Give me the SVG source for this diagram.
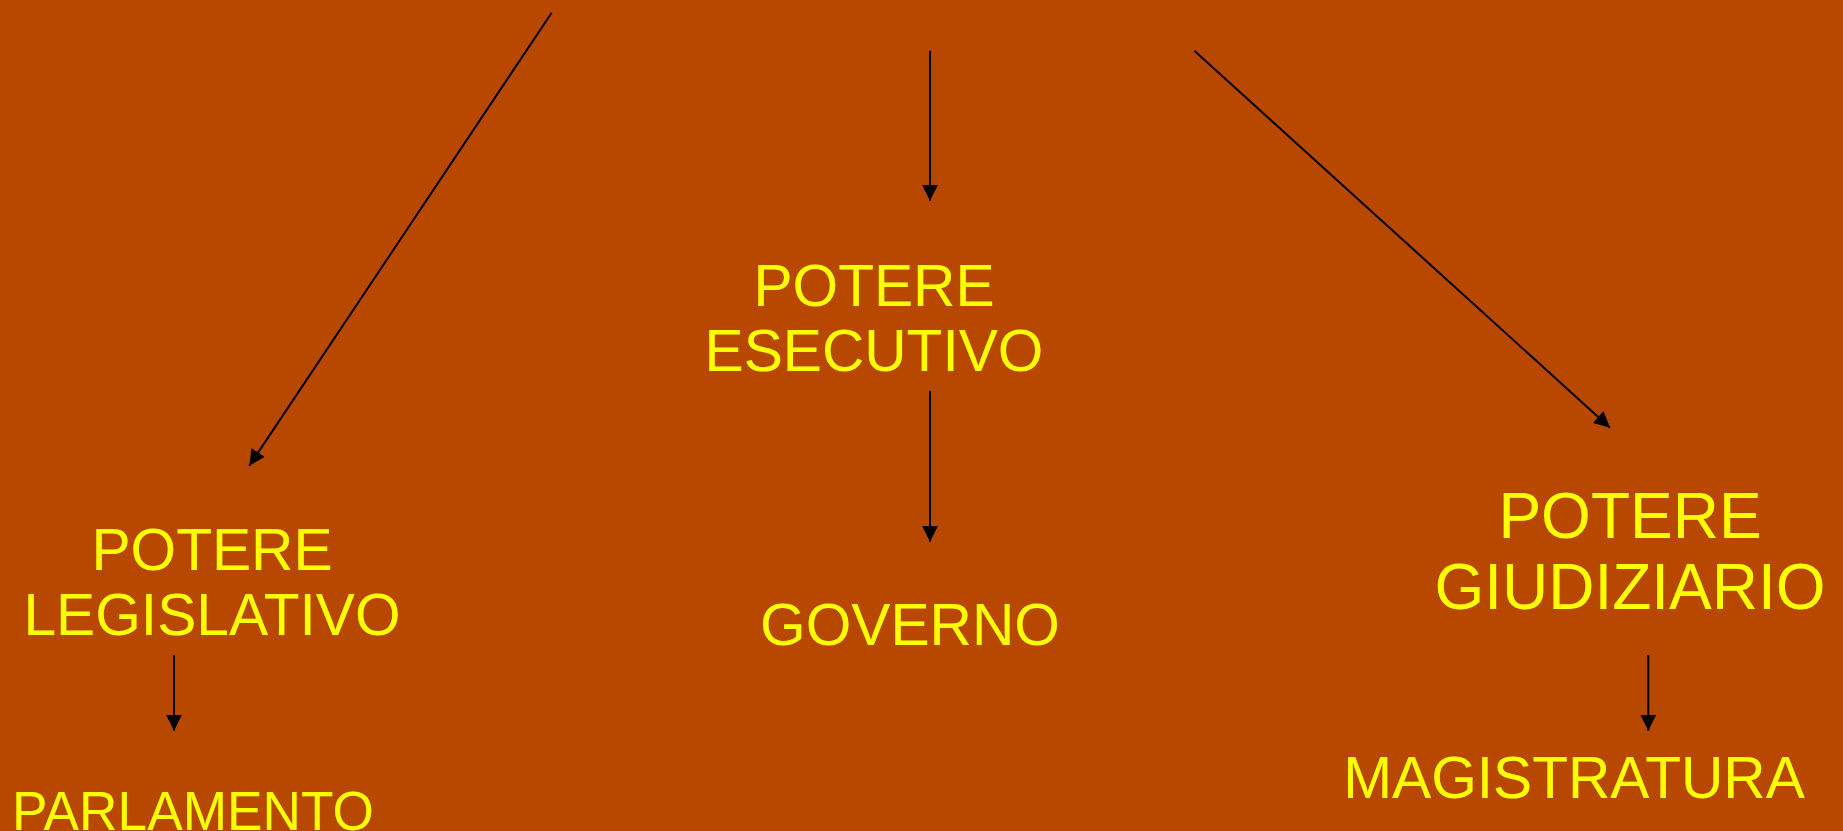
<svg xmlns="http://www.w3.org/2000/svg" width="1843" height="831" viewBox="0 0 1843 831">
<style>
.t{font-family:"Liberation Sans",Arial,sans-serif;fill:#FFFF00;font-size:58.67px;text-anchor:middle}
.big{font-size:64px}
.c{stroke:#000;stroke-width:2;fill:none;marker-end:url(#ah)}
</style>
<defs>
<marker id="ah" markerUnits="userSpaceOnUse" markerWidth="16" markerHeight="16" refX="16" refY="8" orient="auto" viewBox="0 0 16 16">
<path d="M0,0 L16,8 L0,16 z" fill="#000"/>
</marker>
</defs>
<rect width="1843" height="831" fill="#B84700"/>
<g id="connectors">
<line class="c" x1="551.7" y1="12.7" x2="249.3" y2="465.7"/>
<line class="c" x1="930" y1="50.7" x2="930" y2="200.7"/>
<line class="c" x1="1194.3" y1="50.7" x2="1610" y2="427.7"/>
<line class="c" x1="930" y1="390.7" x2="930" y2="541.7"/>
<line class="c" x1="174" y1="655" x2="174" y2="730.7"/>
<line class="c" x1="1648.3" y1="655" x2="1648.3" y2="730.7"/>
</g>
<g id="esecutivo"><text class="t" x="874" y="305.7">POTERE</text><text class="t" x="874" y="370.7">ESECUTIVO</text></g>
<g id="legislativo"><text class="t" x="212" y="570">POTERE</text><text class="t" x="212" y="635">LEGISLATIVO</text></g>
<g id="giudiziario"><text class="t big" x="1630" y="537.7">POTERE</text><text class="t big" x="1630" y="609.3">GIUDIZIARIO</text></g>
<g id="governo"><text class="t" x="910" y="645">GOVERNO</text></g>
<g id="parlamento"><text class="t" style="font-size:55px;text-anchor:start" x="12" y="830" textLength="362" lengthAdjust="spacingAndGlyphs">PARLAMENTO</text></g>
<g id="magistratura"><text class="t" x="1574" y="798.3">MAGISTRATURA</text></g>
</svg>
